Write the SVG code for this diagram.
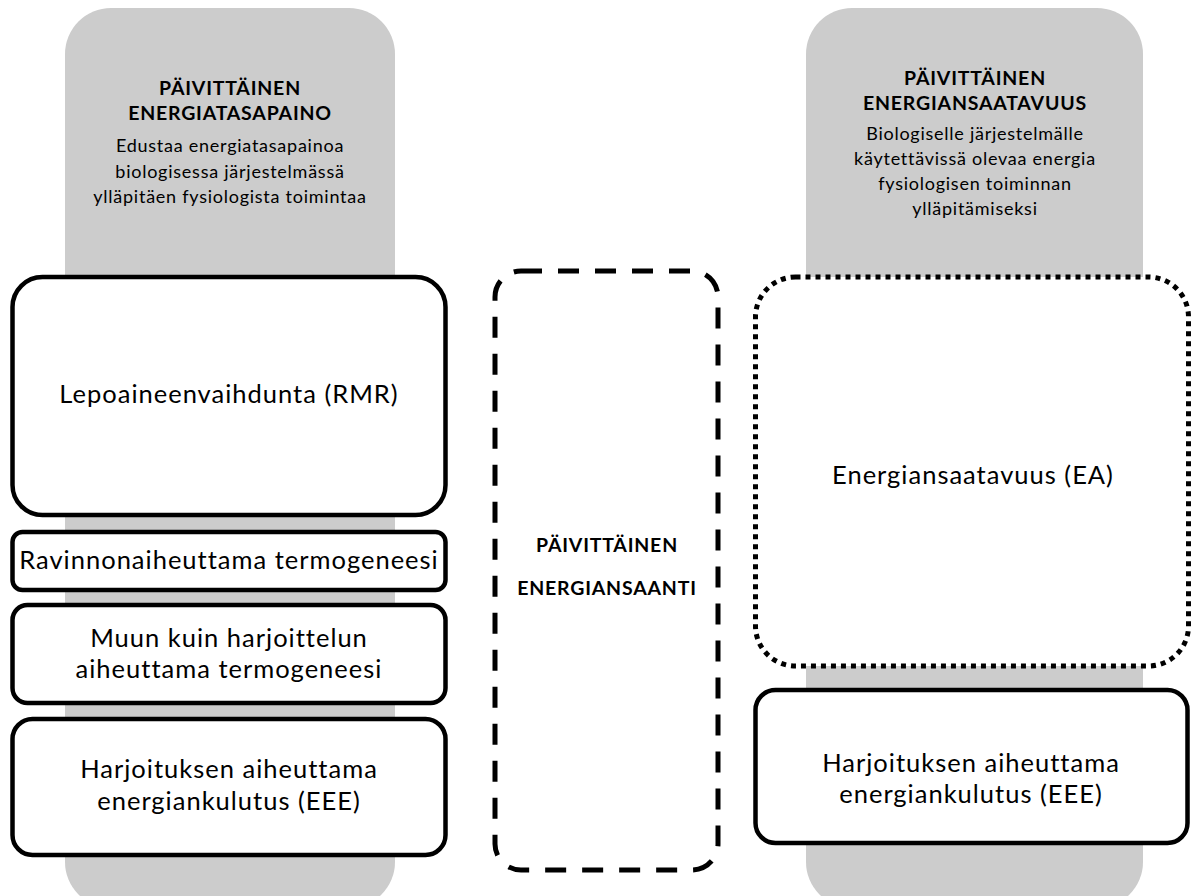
<svg xmlns="http://www.w3.org/2000/svg" width="1192" height="896" viewBox="0 0 1192 896">
<style>
  .panel { fill: #cccccc; }
  .box { fill: #ffffff; stroke: #000000; stroke-width: 4.5; }
  .dashed { fill: #ffffff; stroke: #000000; stroke-width: 5; stroke-dasharray: 21 16; }
  .dotted { fill: #ffffff; stroke: #000000; stroke-width: 5; stroke-dasharray: 5 5; }
  .hdr { font-family: Lato, "Open Sans", sans-serif; font-weight: bold; font-size: 19.5px; letter-spacing: 0.8px; fill: #000; text-anchor: middle; }
  .desc { font-family: Lato, "Open Sans", sans-serif; font-size: 18px; letter-spacing: 0.75px; fill: #000; text-anchor: middle; }
  .lbl { font-family: Lato, "Open Sans", sans-serif; font-size: 25.5px; letter-spacing: 1px; fill: #000; text-anchor: middle; }
</style>
<rect width="1192" height="896" fill="#ffffff"/>
<g id="panel-left">
  <rect class="panel" x="65" y="8" width="330" height="900" rx="46"/>
  <text class="hdr" x="230" y="95">PÄIVITTÄINEN</text>
  <text class="hdr" x="230" y="120">ENERGIATASAPAINO</text>
  <text class="desc" x="230" y="152">Edustaa energiatasapainoa</text>
  <text class="desc" x="230" y="178">biologisessa järjestelmässä</text>
  <text class="desc" x="230" y="203">ylläpitäen fysiologista toimintaa</text>
</g>
<g id="panel-right">
  <rect class="panel" x="806" y="8" width="337" height="900" rx="46"/>
  <text class="hdr" x="975" y="85">PÄIVITTÄINEN</text>
  <text class="hdr" x="975" y="110">ENERGIANSAATAVUUS</text>
  <text class="desc" x="975" y="140">Biologiselle järjestelmälle</text>
  <text class="desc" x="975" y="165">käytettävissä olevaa energia</text>
  <text class="desc" x="975" y="190">fysiologisen toiminnan</text>
  <text class="desc" x="975" y="215">ylläpitämiseksi</text>
</g>
<g id="rmr">
  <rect class="box" x="12.5" y="277" width="433" height="238" rx="30"/>
  <text class="lbl" x="229" y="403">Lepoaineenvaihdunta (RMR)</text>
</g>
<g id="tef">
  <rect class="box" x="12.5" y="532" width="433" height="58" rx="10"/>
  <text class="lbl" x="229" y="569">Ravinnonaiheuttama termogeneesi</text>
</g>
<g id="neat">
  <rect class="box" x="12.5" y="605" width="433" height="98" rx="15"/>
  <text class="lbl" x="229" y="647">Muun kuin harjoittelun</text>
  <text class="lbl" x="229" y="678">aiheuttama termogeneesi</text>
</g>
<g id="eee-left">
  <rect class="box" x="12.5" y="719" width="433" height="136" rx="20"/>
  <text class="lbl" x="229" y="778">Harjoituksen aiheuttama</text>
  <text class="lbl" x="229" y="810">energiankulutus (EEE)</text>
</g>
<g id="intake">
  <rect class="dashed" x="495" y="271" width="223" height="599" rx="26"/>
  <text class="hdr" x="607" y="552">PÄIVITTÄINEN</text>
  <text class="hdr" x="607" y="595">ENERGIANSAANTI</text>
</g>
<g id="ea">
  <rect class="dotted" x="755.5" y="277" width="433" height="389" rx="40"/>
  <text class="lbl" x="973" y="484">Energiansaatavuus (EA)</text>
</g>
<g id="eee-right">
  <rect class="box" x="755.5" y="690" width="432" height="153" rx="20"/>
  <text class="lbl" x="971" y="772">Harjoituksen aiheuttama</text>
  <text class="lbl" x="971" y="803">energiankulutus (EEE)</text>
</g>
<g id="connectors"></g>
</svg>
